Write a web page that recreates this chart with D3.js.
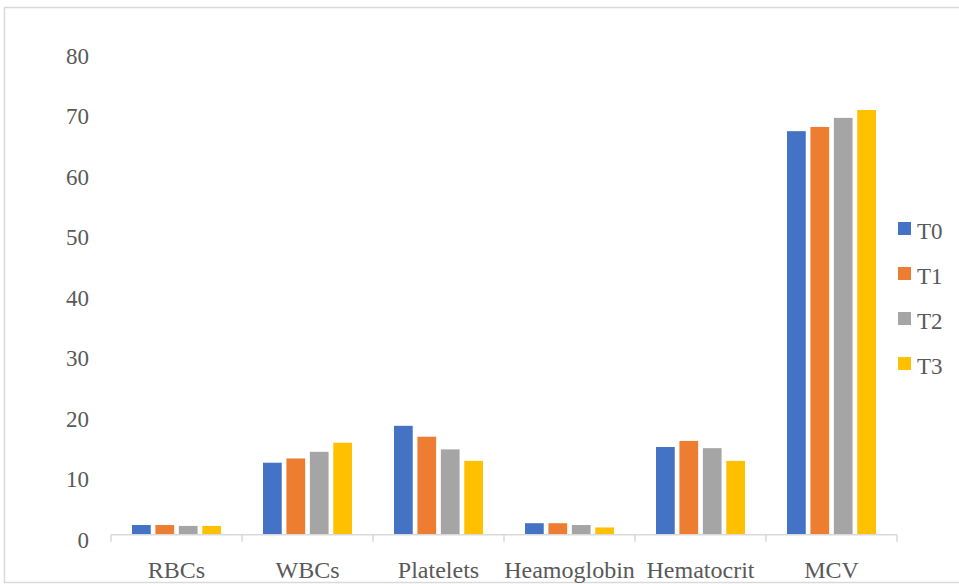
<!DOCTYPE html>
<html>
<head>
<meta charset="utf-8">
<script src="https://cdn.jsdelivr.net/npm/d3@7"></script>
<style>
    body { margin: 0; background: #fff; }
</style>
</head>
<body>
<div id="chart"></div>
<script>
const categories = ["RBCs", "WBCs", "Platelets", "Heamoglobin", "Hematocrit", "MCV"];
const seriesNames = ["T0", "T1", "T2", "T3"];
const T0 = [1.6, 11.9, 18.0, 1.9, 14.5, 66.7];
const T1 = [1.6, 12.6, 16.2, 1.9, 15.5, 67.4];
const T2 = [1.45, 13.7, 14.1, 1.6, 14.3, 68.9];
const T3 = [1.45, 15.2, 12.2, 1.2, 12.2, 70.2];
const yTicks = [0, 10, 20, 30, 40, 50, 60, 70, 80];
const colours = ["#4472C4", "#ED7D31", "#A5A5A5", "#FFC000"];

const width = 959;
const height = 584;
const fontFamily = "Liberation Serif";

const seriesValues = [T0, T1, T2, T3];

const svg = d3.select("#chart").append("svg").attr("width", width).attr("height", height);

// chart area border (light grey, runs off the right edge)
svg.append("rect")
    .attr("x", 4.5).attr("y", 7.5)
    .attr("width", 1000).attr("height", 575)
    .attr("fill", "none")
    .attr("stroke", "#d9d9d9")
    .attr("stroke-width", 1.5);

const x = d3.scaleBand().domain(categories).range([111, 897]).padding(0);
const xInner = d3.scaleBand().domain(seriesNames).range([21, 110]).paddingInner(0.2);
const y = d3.scaleLinear().domain([0, 80]).range([534.7, 50.7]);

// y labels, no axis line, no gridlines
svg.append("g")
    .selectAll("text")
    .data(yTicks)
    .enter()
    .append("text")
    .attr("x", 89)
    .attr("y", d => y(d) + 13)
    .attr("text-anchor", "end")
    .attr("font-family", fontFamily)
    .attr("font-size", 23)
    .attr("fill", "#595959")
    .text(d => d);

// bars
const groups = svg.append("g")
    .selectAll("g")
    .data(categories)
    .enter()
    .append("g")
    .attr("transform", d => `translate(${x(d)},0)`);

groups.selectAll("rect")
    .data((d, i) => seriesNames.map((s, j) => ({ s: s, v: seriesValues[j][i], c: colours[j] })))
    .enter()
    .append("rect")
    .attr("x", d => xInner(d.s))
    .attr("width", xInner.bandwidth())
    .attr("y", d => y(d.v))
    .attr("height", d => y(0) - y(d.v))
    .attr("fill", d => d.c);

// category axis
const xAxis = d3.axisBottom(x).tickSize(0).tickFormat(d => d);
const axisG = svg.append("g")
    .attr("transform", `translate(0, ${y(0)})`)
    .call(xAxis)
    .attr("font-family", fontFamily)
    .attr("font-size", 24);
axisG.select(".domain").remove();
axisG.selectAll("text")
    .attr("fill", "#595959")
    .attr("dy", 0)
    .attr("y", 43);

axisG.append("line")
    .attr("x1", 111).attr("x2", 897)
    .attr("y1", 0).attr("y2", 0)
    .attr("stroke", "#d9d9d9")
    .attr("stroke-width", 1.5);

axisG.selectAll(".sep")
    .data(categories.map(d => x(d)).concat([x.range()[1]]))
    .enter()
    .append("line")
    .attr("class", "sep")
    .attr("x1", d => d).attr("x2", d => d)
    .attr("y1", 0).attr("y2", 7)
    .attr("stroke", "#d9d9d9")
    .attr("stroke-width", 1.5);

// legend
const legend = svg.append("g")
    .selectAll("g")
    .data(seriesNames)
    .enter()
    .append("g")
    .attr("transform", (d, i) => `translate(898, ${228.5 + i * 45})`);

legend.append("rect")
    .attr("x", 0).attr("y", -6.5)
    .attr("width", 13).attr("height", 13)
    .attr("fill", (d, i) => colours[i]);

legend.append("text")
    .attr("x", 19)
    .attr("y", 10.5)
    .attr("font-family", fontFamily)
    .attr("font-size", 23)
    .attr("fill", "#595959")
    .text(d => d);
</script>
</body>
</html>
